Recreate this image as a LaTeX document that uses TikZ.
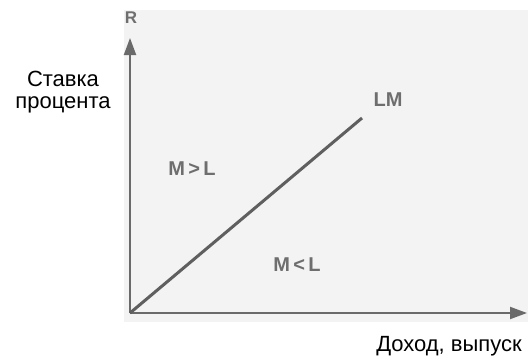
\documentclass[tikz,border=0pt]{standalone}
\usepackage{fontspec}
\setmainfont{Liberation Sans}
\usetikzlibrary{arrows.meta}
\definecolor{axisgray}{HTML}{6A6A6A}
\definecolor{labgray}{HTML}{6E6E6E}
\definecolor{scan}{HTML}{F3F3F3}
\begin{document}
\begin{tikzpicture}[x=1pt,y=-1pt,
  axisline/.style={draw=axisgray,line width=2pt,-{Triangle[length=17pt,width=12pt]}},
  curveline/.style={draw=axisgray!90!black,line width=3pt},
  lab/.style={text=labgray,font=\fontsize{20}{22}\selectfont\bfseries,inner sep=0pt},
  plain/.style={font=\fontsize{22}{22}\selectfont,inner sep=0pt,align=center}]
\useasboundingbox (0,0) rectangle (528,359);
\fill[scan] (124,10) rectangle (528,322);
\coordinate (O) at (130,313);
\coordinate (ytop) at (130,38);
\coordinate (xend) at (527,313);
\coordinate (lmend) at (362,118);
\draw[axisline] (O) -- (ytop);
\draw[axisline] (O) -- (xend);
\draw[curveline] (O) -- (lmend);
\node[lab,font=\fontsize{17}{18}\selectfont\bfseries] (R) at (131,18) {R};
\node[lab] (LM) at (388,100) {LM};
\node[lab] (MgL) at (192,169) {M\,>\,L};
\node[lab] (MlL) at (297,265) {M\,<\,L};
\node[plain] (rate) at (63,92) {Ставка\\процента};
\node[plain] (income) at (449,346) {Доход, выпуск};
\end{tikzpicture}
\end{document}
